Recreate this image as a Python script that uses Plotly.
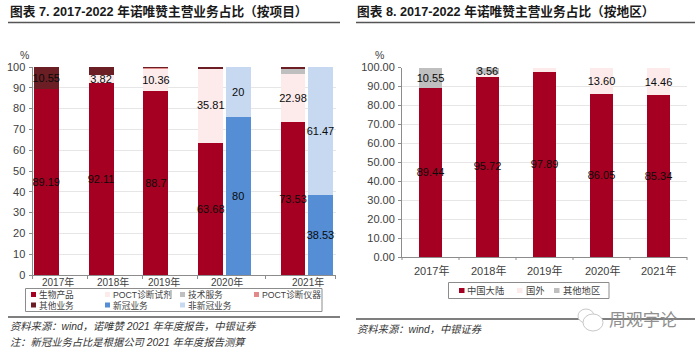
import plotly.graph_objects as go

W, H = 700, 351
RED = "#A50021"; PINK = "#FDEBEC"; GRAY = "#BFBFBF"; ROSE = "#E08A8A"; DARK = "#6B1F24"; BLUE = "#558ED5"; PALE = "#C6D9F1"
LAT = "Liberation Sans"
NAR = "Liberation Sans Narrow, Liberation Sans"
CJK = "Noto Sans CJK SC"
FONT = f"{LAT}, {CJK}"
NFONT = f"{NAR}, {CJK}"

# ---- chart 7 data (slots include the blank spacer categories of the source chart)
slots = [0, 2, 4, 6, 7, 9, 10]
bio     = [89.19, 92.11, 88.7, 63.68, None, 73.53, None]
reagent = [None, 3.82, 10.36, 35.81, None, 22.98, None]
tech    = [None, None, None, None, None, 2.9, None]
instr   = [None, None, 0.5, None, None, None, None]
other   = [10.81, 4.07, 0.44, 0.51, None, 0.59, None]
covid   = [None, None, None, None, 76, None, 38.53]
noncov  = [None, None, None, None, 24, None, 61.47]
covid_text  = ["", "", "", "", "80", "", "38.53"]
noncov_text = ["", "", "", "", "20", "", "61.47"]
bio_text     = ["89.19", "92.11", "88.7", "63.68", "", "73.53", ""]
reagent_text = ["", "3.82", "10.36", "35.81", "", "22.98", ""]
other_text   = ["10.55", "", "", "", "", "", ""]
left_ticks = [0, 10, 20, 30, 40, 50, 60, 70, 80, 90, 100]
years = ["2017年", "2018年", "2019年", "2020年", "2021年"]
left_seps = [-0.5, 1.5, 3.5, 5.5, 8, 10.55]

# ---- chart 8 data
mainland = [89.44, 95.72, 97.89, 86.05, 85.34]
abroad   = [None, 0.72, 2.11, 13.60, 14.46]
otherreg = [10.55, 3.56, None, None, None]
mainland_text = ["89.44", "95.72", "97.89", "86.05", "85.34"]
abroad_text   = ["", "", "", "13.60", "14.46"]
otherreg_text = ["10.55", "3.56", "", "", ""]
right_ticks = [0, 10, 20, 30, 40, 50, 60, 70, 80, 90, 100]

fig = go.Figure()

def bar(x, y, color, text=None, axis="x"):
    fig.add_trace(go.Bar(
        x=x, y=y, marker=dict(color=color, line=dict(width=0)),
        text=text, textposition="inside" if text else None, insidetextanchor="middle",
        textangle=0, constraintext="none", cliponaxis=False,
        textfont=dict(family=NAR, size=11, color="#0a0a0a"),
        xaxis=axis, yaxis="y" if axis == "x" else "y2", showlegend=False, hoverinfo="skip"))

bar(slots, bio, RED, bio_text)
bar(slots, reagent, PINK, reagent_text)
bar(slots, tech, GRAY)
bar(slots, instr, ROSE)
bar(slots, other, DARK, other_text)
bar(slots, covid, BLUE, covid_text)
bar(slots, noncov, PALE, noncov_text)

bar(years, mainland, RED, mainland_text, "x2")
bar(years, abroad, PINK, abroad_text, "x2")
bar(years, otherreg, GRAY, otherreg_text, "x2")

def px(x): return x / W
def py(y): return 1 - y / H

axis_col = "#8C8C8C"; grid = "#E6E6E6"; tick_col = "#404040"
L0, L1, T, B1, B2 = 32.5, 335.5, 67, 275, 257
R0, R1 = 402, 687
fig.update_layout(
    width=W, height=H, margin=dict(l=0, r=0, t=0, b=0), autosize=False,
    paper_bgcolor="white", plot_bgcolor="white", barmode="stack",
    font=dict(family=FONT, size=10, color=tick_col),
    xaxis=dict(domain=[px(L0), px(L1)], range=[-0.5, 10.55], anchor="y", showgrid=False, zeroline=False, automargin=False,
               showline=True, linecolor=axis_col, linewidth=1, tickmode="array",
               tickvals=left_seps, ticktext=[""] * len(left_seps), ticks="outside", ticklen=3, tickcolor=axis_col),
    yaxis=dict(domain=[py(B1), py(T)], range=[0, 100], anchor="x", tickmode="array", tickvals=left_ticks, automargin=False,
               ticktext=[str(v) for v in left_ticks], showgrid=True, gridcolor=grid, gridwidth=1, zeroline=False,
               showline=True, linecolor=axis_col, ticks="outside", ticklen=3, tickcolor=axis_col,
               tickfont=dict(family=NAR, size=11, color=tick_col), ticklabelstandoff=1),
    xaxis2=dict(domain=[px(R0), px(R1)], anchor="y2", type="category", categoryorder="array", categoryarray=years, automargin=False,
                showgrid=False, zeroline=False, showline=True, linecolor=axis_col, ticks="", showticklabels=False),
    yaxis2=dict(domain=[py(B2), py(T + .5)], range=[0, 100], anchor="x2", tickmode="array", tickvals=right_ticks, automargin=False,
                ticktext=[f"{v:.2f}" for v in right_ticks], showgrid=True, gridcolor=grid, zeroline=False,
                showline=True, linecolor=axis_col, ticks="outside", ticklen=3, tickcolor=axis_col,
                tickfont=dict(family=NAR, size=11, color=tick_col), ticklabelstandoff=1),
)
fig.update_traces(width=0.91, selector=dict(xaxis="x"))
fig.update_traces(width=0.405, selector=dict(xaxis="x2"))

shapes, ann = [], []
def rect(x0, y0, x1, y1, fill=None, line=None, lw=1):
    shapes.append(dict(type="rect", xref="paper", yref="paper", x0=px(x0), x1=px(x1), y0=py(y0), y1=py(y1),
                       fillcolor=fill or "rgba(0,0,0,0)", line=dict(color=line or "rgba(0,0,0,0)", width=lw if line else 0)))
def hline(x0, x1, y, color="#555555", lw=1.6):
    shapes.append(dict(type="line", xref="paper", yref="paper", x0=px(x0), x1=px(x1), y0=py(y), y1=py(y), line=dict(color=color, width=lw)))
def text(x, y, s, size=10, color=tick_col, anchor="left", family=FONT, italic=False):
    if italic: s = f"<i>{s}</i>"
    ann.append(dict(xref="paper", yref="paper", x=px(x), y=py(y), text=s, showarrow=False, xanchor=anchor, yanchor="middle",
                    font=dict(family=family, size=size, color=color), borderpad=0, borderwidth=0))

# headers
hline(8, 340, 22.5); hline(356, 695, 22.5)
text(9.5, 11, "<b>图表 7. 2017-2022 年诺唯赞主营业务占比（按项目）</b>", 12.7, "#1a1a1a")
text(357, 11, "<b>图表 8. 2017-2022 年诺唯赞主营业务占比（按地区）</b>", 12.7, "#1a1a1a")
text(24, 55, "%", 10.5, tick_col, "center")
text(380, 55, "%", 10.5, tick_col, "center")

# year labels
left_centres = [58, 113, 164, 227, 308]
for x, s in zip(left_centres, years): text(x, 282, s, 10, tick_col, "center", NFONT)
right_centres = [431, 488, 544.5, 602, 658]
for x, s in zip(right_centres, years): text(x, 270.5, s, 11, tick_col, "center", NFONT)
for x in [402, 459, 516, 573, 630, 687]:
    shapes.append(dict(type="line", xref="paper", yref="paper", x0=px(x), x1=px(x), y0=py(257), y1=py(260), line=dict(color=axis_col, width=1)))

# legends
rect(25.5, 288.5, 322, 311.5, "white", "#8C8C8C", 1)
leg_l = [("生物产品", RED, 31, 294.5), ("POCT诊断试剂", PINK, 105, 294.5), ("技术服务", GRAY, 180, 294.5), ("POCT诊断仪器", ROSE, 254, 294.5),
         ("其他业务", DARK, 31, 305), ("新冠业务", BLUE, 105, 305), ("非新冠业务", PALE, 180, 305)]
for s, c, x, y in leg_l:
    rect(x, y - 2.5, x + 5, y + 2.5, c)
    text(x + 7.5, y, s, 8.7, tick_col)
rect(448.5, 282.5, 609, 298.5, "white", "#8C8C8C", 1)
leg_r = [("中国大陆", RED, 459), ("国外", PINK, 517), ("其他地区", GRAY, 554)]
for s, c, x in leg_r:
    rect(x, 288, x + 5.5, 293, c)
    text(x + 8.5, 290.5, s, 9.3, tick_col)

# footers
hline(8, 340, 317); hline(356, 695, 319)
text(9.5, 326, "资料来源：wind，诺唯赞 2021 年年度报告，中银证券", 10.3, "#333333", italic=True)
text(9.5, 342, "注：新冠业务占比是根据公司 2021 年年度报告测算", 10.3, "#333333", italic=True)
text(357, 329, "资料来源：wind，中银证券", 10.3, "#333333", italic=True)

# watermark
shapes.append(dict(type="circle", xref="paper", yref="paper", x0=px(578), x1=px(594), y0=py(323), y1=py(309), fillcolor="white", line=dict(color="#C8C8C8", width=1)))
shapes.append(dict(type="circle", xref="paper", yref="paper", x0=px(583), x1=px(603), y0=py(331), y1=py(314), fillcolor="white", line=dict(color="#C8C8C8", width=1)))
text(609, 320, "周观宇论", 17, "#8F8F8F")

fig.update_layout(shapes=shapes, annotations=ann)
fig.write_html("out.html", config=dict(displayModeBar=False),
               post_script="document.body.style.margin='0';document.documentElement.style.overflow='hidden';")
